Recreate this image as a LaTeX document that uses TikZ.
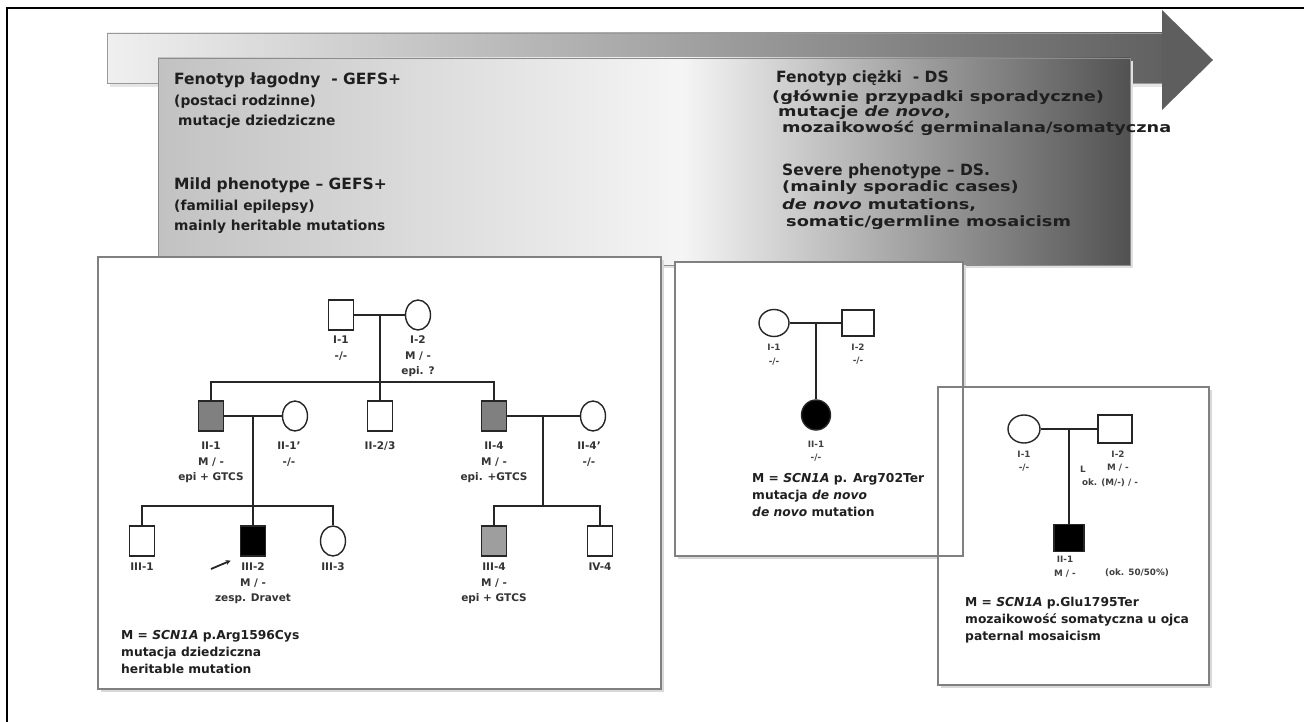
\documentclass[tikz,border=0pt]{standalone}
\usepackage{fontspec}
\setmainfont{DejaVu Sans}
\usetikzlibrary{positioning,shapes.geometric,arrows.meta}

\pgfdeclarehorizontalshading{phenoshade}{100bp}{color(0bp)=(black!24); color(25bp)=(black!24); color(52bp)=(black!4); color(75bp)=(black!68); color(100bp)=(black!68)}
\newcommand{\widesub}[1]{\scalebox{1.25}[1]{#1}}

\tikzset{
  male/.style={rectangle, draw=black!85, line width=1.4pt, minimum width=25pt, minimum height=30pt, inner sep=0pt},
  female/.style={ellipse, draw=black!85, line width=1.4pt, minimum width=25pt, minimum height=30pt, inner sep=0pt},
  carrier/.style={fill=black!50},
  carrierlt/.style={fill=black!38},
  affected/.style={fill=black},
  pedline/.style={line width=1.4pt, black!85},
  panel/.style={draw=black!50, line width=1.8pt},
  lab/.style={font=\fontsize{10.5}{15.5}\selectfont\bfseries, text=black!80, align=center, inner sep=0pt},
  labsm/.style={font=\fontsize{8.8}{13.5}\selectfont\bfseries, text=black!75, align=center, inner sep=0pt},
  headline/.style={font=\fontsize{15.5}{18}\selectfont\bfseries, text=black!88, anchor=west, inner sep=0pt},
  subline/.style={font=\fontsize{13.8}{16}\selectfont\bfseries, text=black!88, anchor=west, inner sep=0pt},
  sublineR/.style={font=\fontsize{14.2}{16}\selectfont\bfseries, text=black!88, anchor=west, inner sep=0pt},
  mnote/.style={font=\fontsize{12.3}{17}\selectfont\bfseries, text=black!88, anchor=north west, inner sep=0pt, align=left},
}

\begin{document}
\begin{tikzpicture}[x=1pt,y=-1pt]
			%%%%% START %%%%%
			\useasboundingbox (0,0) rectangle (1304,722);
			\draw[line width=2pt] (7,722) -- (7,8) -- (1304,8);
			
			% arrow
			\fill[black!10] (110,37) rectangle (1165,87);
			\shade[left color=black!6, right color=black!62, draw=black!40, line width=0.8pt] (107,33) rectangle (1162,83);
			\fill[black!63] (1162,10) -- (1213,60) -- (1162,110) -- cycle;
			
			% phenotype box
			\fill[black!12] (161,61) rectangle (1133,268);
			\shade[shading=phenoshade, draw=black!45, line width=0.8pt] (158,58) rectangle (1130,265);
			
			% panels
			\fill[black!15] (101,260) rectangle (664,692);
			\fill[black!15] (678,265) rectangle (966,559);
			\fill[black!15] (941,390) rectangle (1212,688);
			\fill[white] (98,257) rectangle (661,689);
			\fill[white] (675,262) rectangle (963,556);
			\fill[white] (938,387) rectangle (1209,685);
			\draw[panel] (98,257) rectangle (661,689);
			\draw[panel] (675,262) rectangle (963,556);
			\draw[panel] (938,387) rectangle (1209,685);
			
			% texts in box
			\node[headline] (fl) at (174,80) {Fenotyp łagodny\ \ - GEFS+};
			\node[subline] (fl1) at (174,102) {(postaci rodzinne)};
			\node[subline] (fl2) at (178,122) {mutacje dziedziczne};
			\node[headline] (ml) at (174,185) {Mild phenotype – GEFS+};
			\node[subline] (ml1) at (174,207) {(familial epilepsy)};
			\node[subline] (ml2) at (174,227) {mainly heritable mutations};
			
			\node[headline] (fc) at (776,78) {Fenotyp ciężki\ \ - DS};
			\node[sublineR] (fc1) at (772,97) {\widesub{(głównie przypadki sporadyczne)}};
			\node[sublineR] (fc2) at (778,113) {\widesub{mutacje \textit{de novo},}};
			\node[sublineR] (fc3) at (782,128) {\widesub{mozaikowość germinalana/somatyczna}};
			\node[headline] (sv) at (782,171) {Severe phenotype – DS.};
			\node[sublineR] (sv1) at (782,188) {\widesub{(mainly sporadic cases)}};
			\node[sublineR] (sv2) at (782,205) {\widesub{\textit{de novo} mutations,}};
			\node[sublineR] (sv3) at (786,223) {\widesub{somatic/germline mosaicism}};
			
			% family 1
			\node[male] (I1) at (341,315) {};
			\node[female] (I2) at (418,315) {};
			\node[male, carrier] (II1) at (211,416) {};
			\node[female] (II1p) at (295,416) {};
			\node[male] (II23) at (380,416) {};
			\node[male, carrier] (II4) at (494,416) {};
			\node[female] (II4p) at (593,416) {};
			\node[male] (III1) at (142,541) {};
			\node[male, affected] (III2) at (253,541) {};
			\node[female] (III3) at (333,541) {};
			\node[male, carrierlt] (III4) at (494,541) {};
			\node[male] (IV4) at (600,541) {};
			
			\coordinate (m1) at (380,315);
			\coordinate (s1) at (380,382);
			\draw[pedline] (I1) -- (I2);
			\draw[pedline] (m1) -- (s1);
			\draw[pedline] (II1) |- (s1) -| (II4);
			\draw[pedline] (s1) -- (II23);
			
			\coordinate (m2) at (253,416);
			\coordinate (s2) at (253,506);
			\draw[pedline] (II1) -- (II1p);
			\draw[pedline] (m2) -- (s2) -- (III2);
			\draw[pedline] (III1) |- (s2) -| (III3);
			
			\coordinate (m3) at (543,416);
			\coordinate (s3) at (543,506);
			\draw[pedline] (II4) -- (II4p);
			\draw[pedline] (m3) -- (s3);
			\draw[pedline] (III4) |- (s3) -| (IV4);
			
			\node[lab, below=5pt of I1] (I1t) {I-1\\-/-};
			\node[lab, below=5pt of I2] (I2t) {I-2\\M / -\\epi. ?};
			\node[lab, below=10pt of II1] (II1t) {II-1\\M / -\\epi + GTCS};
			\node[lab, below=10pt of II1p, xshift=-6pt] (II1pt) {II-1'\\-/-};
			\node[lab, below=10pt of II23] (II23t) {II-2/3};
			\node[lab, below=10pt of II4] (II4t) {II-4\\M / -\\epi. +GTCS};
			\node[lab, below=10pt of II4p, xshift=-4pt] (II4pt) {II-4'\\-/-};
			\node[lab, below=6pt of III1] (III1t) {III-1};
			\node[lab, below=6pt of III2] (III2t) {III-2\\M / -\\zesp. Dravet};
			\node[lab, below=6pt of III3] (III3t) {III-3};
			\node[lab, below=6pt of III4] (III4t) {III-4\\M / -\\epi + GTCS};
			\node[lab, below=6pt of IV4] (IV4t) {IV-4};
			
			\coordinate (pro) at (211,569);
			\draw[line width=1.8pt, black!85, -{Stealth[length=5pt,width=5pt]}, shorten >=10pt] (pro) -- (III2.south west);
			
			\node[mnote] (n1) at (121,630) {M = \textit{SCN1A} p.Arg1596Cys\\mutacja dziedziczna\\heritable mutation};
			
			% family 2
			\node[female, minimum width=30pt, minimum height=27pt] (mI1) at (774,323) {};
			\node[male, minimum width=32pt, minimum height=26pt] (mI2) at (858,323) {};
			\node[female, affected, minimum width=29pt, minimum height=30pt] (mII1) at (816,415) {};
			\coordinate (mm) at (816,323);
			\draw[pedline] (mI1) -- (mI2);
			\draw[pedline] (mm) -- (mII1);
			\node[labsm, below=7pt of mI1] (mI1t) {I-1\\-/-};
			\node[labsm, below=7pt of mI2] (mI2t) {I-2\\-/-};
			\node[labsm, below=10pt of mII1] (mII1t) {II-1\\-/-};
			\node[mnote] (n2) at (752,473) {M = \textit{SCN1A} p. Arg702Ter\\mutacja \textit{de novo}\\\textit{de novo} mutation};
			
			% family 3
			\node[female, minimum width=32pt, minimum height=28pt] (rI1) at (1024,429) {};
			\node[male, minimum width=34pt, minimum height=28pt] (rI2) at (1115,429) {};
			\node[male, affected, minimum width=30pt, minimum height=27pt] (rII1) at (1069,538) {};
			\coordinate (rm) at (1069,429);
			\draw[pedline] (rI1) -- (rI2);
			\draw[pedline] (rm) -- (rII1);
			\node[labsm, below=7pt of rI1] (rI1t) {I-1\\-/-};
			\node[labsm, below=7pt of rI2, xshift=3pt] (rI2t) {I-2\\M / -};
			\node[labsm] (rI2l) at (1083,469) {L};
			\node[labsm] (rI2s) at (1110,483) {ok. (M/-) / -};
			\node[labsm, below=4pt of rII1, xshift=-4pt] (rII1t) {II-1\\M / -};
			\node[labsm] (rII1p) at (1137,573) {(ok. 50/50\%)};
			\node[mnote] (n3) at (965,597) {M = \textit{SCN1A} p.Glu1795Ter\\mozaikowość somatyczna u ojca\\paternal mosaicism};
			%%%%% END %%%%%
\end{tikzpicture}
\end{document}
